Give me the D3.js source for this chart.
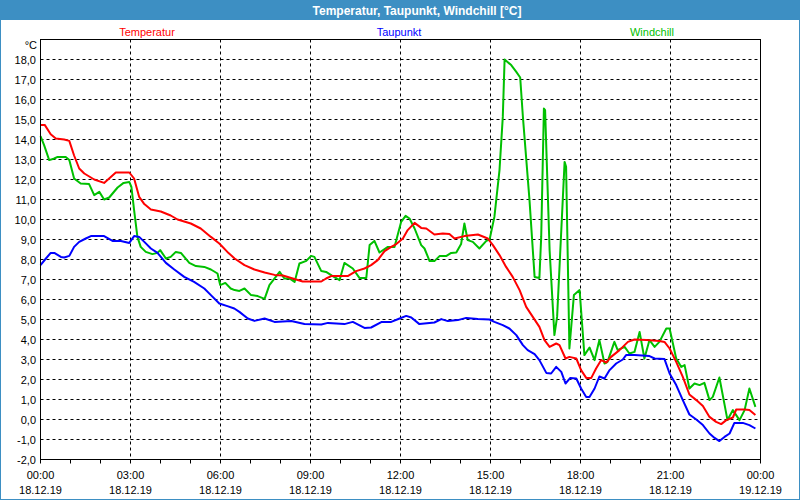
<!DOCTYPE html>
<html><head><meta charset="utf-8">
<script src="https://cdn.jsdelivr.net/npm/d3@7"></script>
<style>body{margin:0;background:#fff}svg{display:block}</style>
</head><body>
<script>
const title = "Temperatur, Taupunkt, Windchill [°C]";
const seriesNames = ["Temperatur", "Taupunkt", "Windchill"];
const seriesColors = ["#ff0000", "#0000ff", "#00c000"];
const yTicks = [-2,-1,0,1,2,3,4,5,6,7,8,9,10,11,12,13,14,15,16,17,18];
const xTickHours = [0,3,6,9,12,15,18,21,24];
const xTickTimes = ["00:00","03:00","06:00","09:00","12:00","15:00","18:00","21:00","00:00"];
const xTickDates = ["18.12.19","18.12.19","18.12.19","18.12.19","18.12.19","18.12.19","18.12.19","18.12.19","19.12.19"];

// [hour, value]
const temperatur = [[0,14.73],[0.14,14.73],[0.34,14.26],[0.51,14.05],[0.79,14.0],[0.96,13.93],[1.12,13.2],[1.29,12.55],[1.46,12.3],[1.79,12.0],[2.12,11.83],[2.51,12.35],[2.96,12.35],[3.12,12.05],[3.29,11.13],[3.46,10.77],[3.68,10.5],[4.01,10.4],[4.34,10.2],[4.57,10.0],[5.01,9.8],[5.34,9.55],[5.68,9.13],[5.96,8.8],[6.23,8.38],[6.47,8.05],[6.8,7.72],[7.13,7.5],[7.47,7.35],[7.8,7.23],[8.08,7.2],[8.41,7.05],[8.74,6.9],[9.36,6.9],[9.52,7.05],[9.69,7.17],[10.24,7.17],[10.52,7.42],[10.8,7.55],[11.02,7.72],[11.24,7.97],[11.47,8.42],[11.69,8.63],[11.86,8.77],[12.08,9.05],[12.24,9.47],[12.47,9.83],[12.69,9.58],[12.86,9.55],[13.13,9.25],[13.41,9.3],[13.63,9.27],[13.8,9.05],[14.13,9.17],[14.58,9.25],[14.91,9.05],[15.08,8.72],[15.3,8.22],[15.52,7.63],[15.74,7.13],[15.97,6.47],[16.19,5.63],[16.41,5.13],[16.63,4.63],[16.8,3.97],[16.97,3.63],[17.19,3.8],[17.3,3.72],[17.5,3.05],[17.63,3.13],[17.86,3.05],[18.02,2.47],[18.19,2.08],[18.36,2.08],[18.52,2.55],[18.69,2.97],[18.86,2.85],[19.02,3.13],[19.3,3.47],[19.58,3.88],[19.8,4.0],[20.19,3.97],[20.63,3.92],[20.8,3.88],[20.97,3.55],[21.19,2.88],[21.41,2.13],[21.63,1.25],[21.86,0.97],[22.08,0.67],[22.3,0.13],[22.52,-0.12],[22.69,-0.23],[22.86,-0.03],[23.08,0.1],[23.19,0.5],[23.47,0.5],[23.63,0.47],[23.83,0.22]];

const taupunkt = [[0,7.72],[0.18,8.05],[0.34,8.33],[0.46,8.33],[0.68,8.13],[0.79,8.1],[0.96,8.18],[1.12,8.63],[1.29,8.88],[1.51,9.05],[1.68,9.17],[2.12,9.17],[2.4,8.93],[2.68,8.92],[2.96,8.83],[3.12,9.17],[3.29,9.13],[3.46,8.88],[3.68,8.55],[3.9,8.33],[4.18,7.83],[4.46,7.5],[4.79,7.13],[5.12,6.88],[5.46,6.55],[5.68,6.22],[5.96,5.8],[6.23,5.67],[6.46,5.55],[6.63,5.38],[6.91,5.05],[7.13,4.93],[7.47,5.05],[7.8,4.88],[8.36,4.92],[8.8,4.77],[9.36,4.75],[9.58,4.83],[10.13,4.77],[10.41,4.88],[10.8,4.58],[11.02,4.6],[11.36,4.87],[11.69,4.88],[11.97,5.05],[12.19,5.18],[12.36,5.1],[12.63,4.77],[13.13,4.85],[13.36,5.02],[13.58,4.92],[13.91,4.97],[14.19,5.08],[14.58,5.03],[14.97,5.0],[15.13,4.88],[15.41,4.72],[15.63,4.55],[15.86,4.22],[16.08,3.72],[16.24,3.47],[16.47,3.27],[16.63,2.97],[16.86,2.33],[17.02,2.3],[17.19,2.63],[17.36,2.38],[17.5,1.8],[17.66,2.08],[17.86,2.05],[18.02,1.55],[18.19,1.13],[18.3,1.13],[18.47,1.55],[18.63,2.15],[18.8,2.05],[18.97,2.47],[19.19,2.8],[19.41,3.0],[19.52,3.22],[19.8,3.22],[20.3,3.17],[20.47,3.05],[20.8,3.02],[20.97,2.3],[21.19,1.72],[21.41,0.97],[21.63,0.25],[21.86,0.0],[22.08,-0.28],[22.3,-0.7],[22.47,-0.92],[22.63,-1.08],[22.8,-0.87],[22.97,-0.7],[23.13,-0.17],[23.41,-0.17],[23.63,-0.28],[23.83,-0.45]];

const windchill = [[0,14.17],[0.12,13.72],[0.29,12.97],[0.46,13.05],[0.57,13.13],[0.84,13.13],[0.96,12.97],[1.12,12.05],[1.34,11.8],[1.62,11.77],[1.79,11.22],[1.96,11.38],[2.12,11.0],[2.29,11.1],[2.57,11.6],[2.77,11.83],[2.96,11.88],[3.03,11.63],[3.12,10.47],[3.23,9.13],[3.34,8.63],[3.51,8.38],[3.73,8.27],[3.9,8.33],[3.99,8.47],[4.18,8.05],[4.34,8.13],[4.51,8.38],[4.68,8.33],[4.96,7.83],[5.18,7.67],[5.46,7.63],[5.68,7.5],[5.9,7.3],[5.99,6.72],[6.16,6.83],[6.34,6.55],[6.47,6.47],[6.63,6.43],[6.8,6.55],[7.02,6.22],[7.24,6.17],[7.47,6.03],[7.63,6.72],[7.97,7.38],[8.13,7.05],[8.3,7.05],[8.47,6.88],[8.63,7.8],[8.86,7.93],[9.02,8.18],[9.13,8.13],[9.36,7.42],[9.52,7.38],[9.74,7.17],[9.97,6.97],[10.13,7.83],[10.41,7.55],[10.63,7.08],[10.86,7.08],[10.97,8.72],[11.13,8.93],[11.3,8.35],[11.58,8.63],[11.8,8.63],[12.02,9.88],[12.17,10.18],[12.3,10.05],[12.47,9.55],[12.69,8.72],[12.8,8.55],[12.97,7.92],[13.13,7.92],[13.3,8.17],[13.52,8.17],[13.69,8.33],[13.86,8.35],[14.02,8.77],[14.13,9.8],[14.24,8.97],[14.41,8.88],[14.63,8.55],[14.86,8.93],[14.97,9.0],[15.13,10.13],[15.3,12.47],[15.41,15.13],[15.47,18.0],[15.69,17.72],[15.86,17.38],[15.99,17.1],[16.08,15.13],[16.3,10.97],[16.47,7.13],[16.63,7.08],[16.69,9.13],[16.78,15.55],[16.82,15.47],[16.97,8.47],[17.13,4.22],[17.22,5.13],[17.47,12.88],[17.52,12.63],[17.63,3.55],[17.78,6.22],[17.97,6.47],[18.13,3.22],[18.3,3.6],[18.47,2.97],[18.63,3.97],[18.8,2.8],[18.9,2.88],[19.13,3.88],[19.24,3.47],[19.47,3.63],[19.63,3.3],[19.8,3.38],[19.97,4.38],[20.13,3.05],[20.3,3.97],[20.47,3.63],[20.63,3.88],[20.86,4.55],[20.97,4.55],[21.19,3.05],[21.36,2.63],[21.47,2.72],[21.63,1.55],[21.8,1.8],[21.97,1.72],[22.13,1.83],[22.3,0.97],[22.41,1.13],[22.63,2.1],[22.9,-0.03],[23.08,0.47],[23.3,-0.03],[23.47,0.47],[23.63,1.55],[23.83,0.63]];

const W = 800, H = 500;
const svg = d3.select("body").append("svg").attr("width", W).attr("height", H);
const FONT = "'Liberation Sans', Arial, sans-serif";

// window frame & title bar
svg.append("rect").attr("x",0.5).attr("y",0.5).attr("width",W-1).attr("height",H-1).attr("fill","#fff").attr("stroke","#3d8fc3");
svg.append("rect").attr("x",0).attr("y",0).attr("width",W).attr("height",20).attr("fill","#3d8fc3");
svg.append("text").attr("x",417).attr("y",14.5).attr("text-anchor","middle")
  .attr("fill","#fff").attr("font-family",FONT).attr("font-weight","bold").attr("font-size",12).text(title);

const x = d3.scaleLinear().domain([0,24]).range([40.5,760.5]);
const y = d3.scaleLinear().domain([-2,19]).range([459.5,39.5]);

// grid
const g = svg.append("g");
g.selectAll("line.hg").data(yTicks).join("line")
  .attr("x1",x(0)).attr("x2",x(24)).attr("y1",d=>y(d)).attr("y2",d=>y(d))
  .attr("stroke","#000").attr("stroke-dasharray","3,3");
g.selectAll("line.vg").data(xTickHours.slice(1,-1)).join("line")
  .attr("x1",d=>x(d)).attr("x2",d=>x(d)).attr("y1",y(19)).attr("y2",y(-2))
  .attr("stroke","#000").attr("stroke-dasharray","3,3");

// series lines
const line = d3.line().x(d=>x(d[0])).y(d=>y(d[1]));
const series = [temperatur, taupunkt, windchill];
svg.selectAll("path.s").data([windchill, taupunkt, temperatur]).join("path")
  .attr("d", line).attr("fill","none")
  .attr("stroke",(d)=>seriesColors[series.indexOf(d)]).attr("stroke-width",2)
  .attr("stroke-linejoin","round");

// frame
svg.append("rect").attr("x",x(0)).attr("y",y(19)).attr("width",x(24)-x(0)).attr("height",y(-2)-y(19))
  .attr("fill","none").attr("stroke","#000");

// y axis labels
svg.selectAll("text.yl").data(yTicks).join("text")
  .attr("x",36).attr("y",d=>y(d)+4).attr("text-anchor","end")
  .attr("font-family",FONT).attr("font-size",11).attr("fill","#000")
  .text(d=>d3.format(".1f")(d).replace(".",",").replace("−","-"));
svg.append("text").attr("x",37).attr("y",49).attr("text-anchor","end")
  .attr("font-family",FONT).attr("font-size",11).text("°C");

// x axis hourly ticks
const hrs = d3.range(0,25);
svg.selectAll("line.xt").data(hrs).join("line")
  .attr("x1",d=>x(d)).attr("x2",d=>x(d)).attr("y1",y(-2)).attr("y2",y(-2)+4)
  .attr("stroke","#000");
svg.selectAll("text.xt1").data(xTickHours).join("text")
  .attr("x",d=>x(d)).attr("y",479).attr("text-anchor","middle")
  .attr("font-family",FONT).attr("font-size",11).text((d,i)=>xTickTimes[i]);
svg.selectAll("text.xt2").data(xTickHours).join("text")
  .attr("x",d=>x(d)).attr("y",494).attr("text-anchor","middle")
  .attr("font-family",FONT).attr("font-size",11).text((d,i)=>xTickDates[i]);

// legend labels
const legendX = [147, 399, 652];
svg.selectAll("text.leg").data(seriesNames).join("text")
  .attr("x",(d,i)=>legendX[i]).attr("y",36).attr("text-anchor","middle")
  .attr("font-family",FONT).attr("font-size",11).attr("fill",(d,i)=>seriesColors[i]).text(d=>d);
</script>
</body></html>
